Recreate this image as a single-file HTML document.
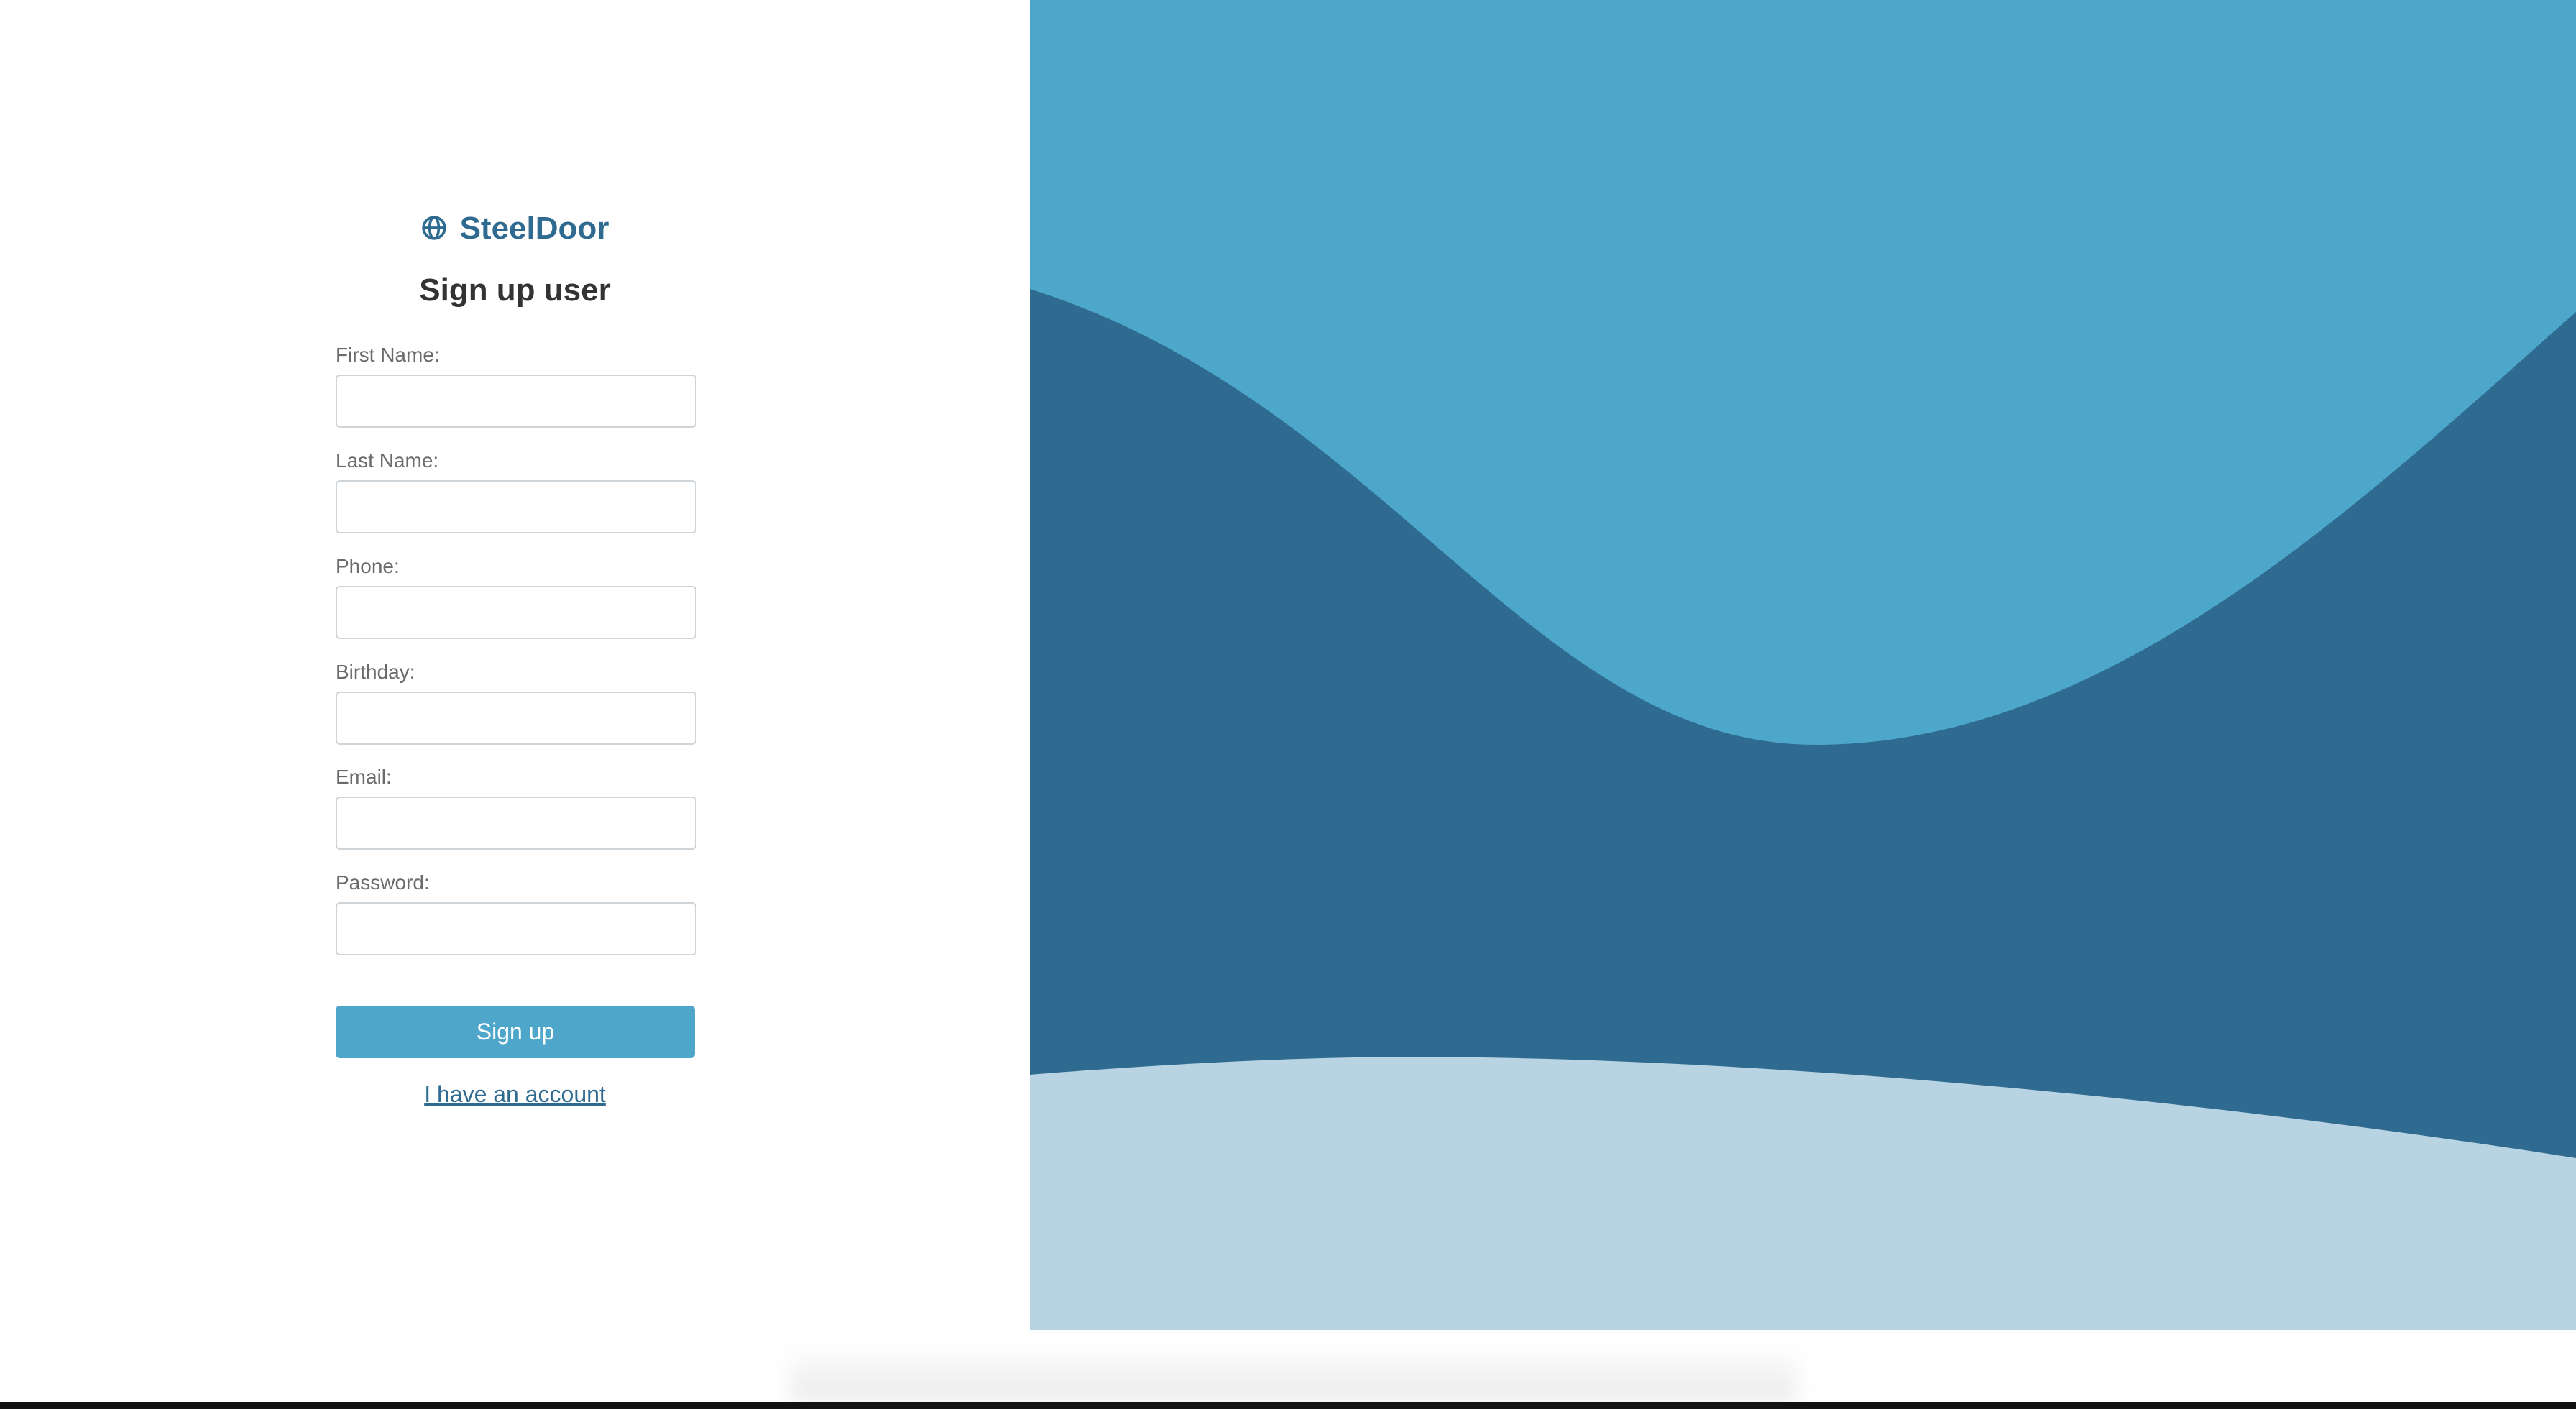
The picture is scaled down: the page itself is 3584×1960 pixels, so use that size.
<!DOCTYPE html>
<html><head><meta charset="utf-8"><style>
html,body{margin:0;padding:0;width:3584px;height:1960px;overflow:hidden;background:#fff;font-family:"Liberation Sans",sans-serif;}
.abs{position:absolute;}
.label{position:absolute;left:467px;font-size:28px;color:#6b6b6b;}
.inp{position:absolute;left:467px;width:498px;height:70px;border:2px solid #cfd4d9;border-radius:6px;background:#fff;box-sizing:content-box;}
</style></head><body>
<div class="abs" style="left:0;top:0;width:1433px;height:1850px;">
  <div class="abs" style="left:0;width:1433px;top:290px;text-align:center;color:#2f6b91;font-weight:bold;font-size:44px;line-height:56px;">
    <svg width="36" height="36" viewBox="0 0 34 34" style="vertical-align:-3px;margin-right:18px;"><circle cx="17" cy="17" r="14" fill="none" stroke="#2f6b91" stroke-width="3.5"/><line x1="3" y1="17" x2="31" y2="17" stroke="#2f6b91" stroke-width="3.5"/><ellipse cx="17" cy="17" rx="6" ry="14" fill="none" stroke="#2f6b91" stroke-width="3.5"/></svg><span>SteelDoor</span>
  </div>
  <div class="abs" style="left:0;width:1433px;top:374px;text-align:center;color:#333;font-weight:bold;font-size:44px;line-height:60px;">Sign up user</div>

  <div class="label" style="top:478px;">First Name:</div>
  <div class="inp" style="top:521px;"></div>
  <div class="label" style="top:625px;">Last Name:</div>
  <div class="inp" style="top:668px;"></div>
  <div class="label" style="top:772px;">Phone:</div>
  <div class="inp" style="top:815px;"></div>
  <div class="label" style="top:919px;">Birthday:</div>
  <div class="inp" style="top:962px;"></div>
  <div class="label" style="top:1065px;">Email:</div>
  <div class="inp" style="top:1108px;"></div>
  <div class="label" style="top:1212px;">Password:</div>
  <div class="inp" style="top:1255px;"></div>

  <div class="abs" style="left:467px;top:1399px;width:500px;height:73px;background:#4ea6cb;border-radius:6px;color:#fff;font-size:32px;line-height:73px;text-align:center;">Sign up</div>
  <div class="abs" style="left:0;width:1433px;top:1502px;text-align:center;color:#2f6b91;font-size:32px;line-height:40px;text-decoration:underline;">I have an account</div>
</div>

<svg class="abs" style="left:1433px;top:0;" width="2151" height="1850" viewBox="0 0 2151 1850">
  <rect x="0" y="0" width="2151" height="1850" fill="#4ca7cb"/>
  <path d="M0,402 C500,560 700,1036 1093,1036 C1500,1036 1850,700 2151,434 L2151,1850 L0,1850 Z" fill="#2f6b91"/>
  <path d="M0,1495 C250,1475 420,1470 556,1470 C1100,1474 1700,1540 2151,1611 L2151,1850 L0,1850 Z" fill="#b8d3e1"/>
</svg>

<div class="abs" style="left:1100px;top:1870px;width:1400px;height:80px;background:linear-gradient(to bottom,rgba(0,0,0,0),rgba(0,0,0,0.09));filter:blur(14px);"></div>
<div class="abs" style="left:0;top:1950px;width:3584px;height:10px;background:#111;"></div>
</body></html>
